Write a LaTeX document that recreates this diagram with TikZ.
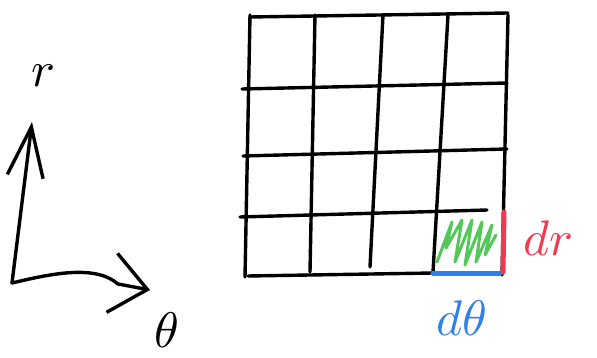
\documentclass[tikz,border=0pt]{standalone}
\usepackage{tikz}
\usetikzlibrary{positioning,arrows.meta}
\definecolor{hatchgreen}{HTML}{55C65A}
\definecolor{dthblue}{HTML}{2F80E8}
\definecolor{drred}{HTML}{F03A52}

\begin{document}
\begin{tikzpicture}[
    x=1pt, y=-1pt,
    pen/.style={line width=3.4pt, line cap=round, line join=round},
    gridline/.style={pen, draw=black},
    raxis/.style={pen, -{Straight Barb[length=50pt, width=36pt]}},
    thaxis/.style={pen, -{Straight Barb[length=36pt, width=60pt]}},
    lbl/.style={scale=5, inner sep=0pt}
]
\useasboundingbox (0,0) rectangle (597,358);

% Grid
\foreach \xt/\xb/\yb in {250/245/277, 315/310/272, 383/370/267, 448/433/272, 508/502/275}
    \draw[gridline] (\xt,15) -- (\xb,\yb);
\foreach \xl/\yl/\xr/\yr in {250/17/508/13, 242/89/507/83, 243/156/507/149, 240/217/487/210}
    \draw[gridline] (\xl,\yl) -- (\xr,\yr);
\draw[gridline] (248,276) -- (433,273);

% Small element
\draw[pen, draw=hatchgreen, line width=3pt] (437,262) -- (452,222) -- (446,248) -- (462,220)
    -- (455,262) -- (472,220) -- (465,265) -- (482,222) -- (476,262) -- (492,225)
    -- (485,255) -- (496,235);
\draw[pen, draw=dthblue, line width=5pt] (433,273) -- (500,273);
\draw[pen, draw=drred, line width=5pt] (504,212) -- (503,272);

% Labels
\node[lbl, text=drred] (dr) at (548,238) {$dr$};
\node[lbl, text=dthblue] (dth) at (462,318) {$d\theta$};
\node[lbl] (r) at (43,76) {$r$};
\node[lbl] (th) at (167,330) {$\theta$};

% Axes
\coordinate (o) at (12,283);
\coordinate (rtip) at (32,122);
\coordinate (thtip) at (150,290);
\draw[raxis] (o) -- (rtip);
\draw[thaxis] (o) .. controls (50,274) and (95,264) .. (118,284) -- (thtip);

\end{tikzpicture}
\end{document}
